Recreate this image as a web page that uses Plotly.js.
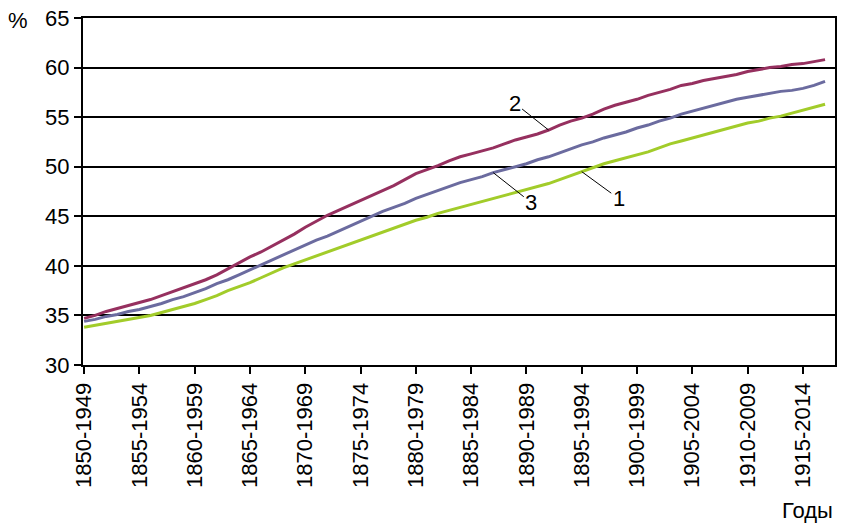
<!DOCTYPE html>
<html>
<head>
<meta charset="utf-8">
<script src="https://cdn.plot.ly/plotly-3.0.1.min.js"></script>
<style>html,body{margin:0;padding:0;background:#fff}#chart{width:849px;height:525px}</style>
</head>
<body>
<div id="chart"></div>
<script>
// Start years of the 100-year windows (1850-1949 ... 1917-2016)
const startYears = [];
for (let y = 1850; y <= 1917; y++) startYears.push(y);
const categories = startYears.map(y => y + '-' + (y + 99));

// Series 1 (green)
const series1 = [33.8,34.0,34.2,34.4,34.6,34.8,35.0,35.3,35.6,35.9,
  36.2,36.6,37.0,37.5,37.9,38.3,38.8,39.3,39.8,40.2,
  40.6,41.0,41.4,41.8,42.2,42.6,43.0,43.4,43.8,44.2,
  44.6,44.9,45.3,45.6,45.9,46.2,46.5,46.8,47.1,47.4,
  47.7,48.0,48.3,48.7,49.1,49.5,49.9,50.3,50.6,50.9,
  51.2,51.5,51.9,52.3,52.6,52.9,53.2,53.5,53.8,54.1,
  54.4,54.6,54.9,55.1,55.4,55.7,56.0,56.3];
// Series 2 (purple)
const series2 = [34.7,35.0,35.4,35.7,36.0,36.3,36.6,37.0,37.4,37.8,
  38.2,38.6,39.1,39.7,40.3,40.9,41.4,42.0,42.6,43.2,
  43.9,44.5,45.1,45.6,46.1,46.6,47.1,47.6,48.1,48.7,
  49.3,49.7,50.1,50.6,51.0,51.3,51.6,51.9,52.3,52.7,
  53.0,53.3,53.7,54.2,54.6,54.9,55.3,55.8,56.2,56.5,
  56.8,57.2,57.5,57.8,58.2,58.4,58.7,58.9,59.1,59.3,
  59.6,59.8,60.0,60.1,60.3,60.4,60.6,60.8];
// Series 3 (blue-grey)
const series3 = [34.4,34.6,34.9,35.1,35.4,35.6,35.9,36.2,36.6,36.9,
  37.3,37.7,38.2,38.6,39.1,39.6,40.1,40.6,41.1,41.6,
  42.1,42.6,43.0,43.5,44.0,44.5,45.0,45.5,45.9,46.3,
  46.8,47.2,47.6,48.0,48.4,48.7,49.0,49.4,49.7,50.0,
  50.3,50.7,51.0,51.4,51.8,52.2,52.5,52.9,53.2,53.5,
  53.9,54.2,54.6,54.9,55.3,55.6,55.9,56.2,56.5,56.8,
  57.0,57.2,57.4,57.6,57.7,57.9,58.2,58.6];

const tickLabels = categories.filter((c, i) => i % 5 === 0);
const yTicks = [30,35,40,45,50,55,60,65];
const seriesNames = ['1','2','3'];

const FONT = 'Liberation Sans, Arial, sans-serif';

const traces = [
  {x: categories, y: series3, name: seriesNames[2], mode: 'lines', line: {color: '#6B6B9F', width: 3}},
  {x: categories, y: series1, name: seriesNames[0], mode: 'lines', line: {color: '#A2CC2A', width: 3}},
  {x: categories, y: series2, name: seriesNames[1], mode: 'lines', line: {color: '#96305F', width: 3}}
];

function label(txt, idx, arr, ax, ay) {
  return {x: idx, y: arr[idx], xref: 'x', yref: 'y', text: txt, showarrow: true,
    arrowhead: 0, arrowwidth: 1, arrowcolor: '#000', ax: ax, ay: ay, standoff: 0,
    font: {family: FONT, size: 22, color: '#000'}};
}

const layout = {
  width: 849, height: 525,
  margin: {l: 83, r: 14, t: 18, b: 160},
  paper_bgcolor: '#fff', plot_bgcolor: '#fff',
  showlegend: false,
  font: {family: FONT, color: '#000'},
  xaxis: {
    type: 'category', range: [-0.1, 67.9],
    tickvals: tickLabels, ticktext: tickLabels, tickangle: -90,
    ticks: 'outside', ticklen: 7, tickwidth: 2, tickcolor: '#000',
    showline: true, linecolor: '#000', linewidth: 2, mirror: true,
    showgrid: false, zeroline: false,
    tickfont: {family: FONT, size: 22, color: '#000'}
  },
  yaxis: {
    range: [30, 65], tickvals: yTicks,
    ticks: 'outside', ticklen: 7, tickwidth: 2, tickcolor: '#000',
    showline: true, linecolor: '#000', linewidth: 2, mirror: true,
    showgrid: true, gridcolor: '#000', gridwidth: 2, zeroline: false,
    tickfont: {family: FONT, size: 22, color: '#000'}
  },
  annotations: [
    label(seriesNames[1], 42, series2, -34, -27),
    label(seriesNames[2], 37, series3, 38, 30),
    label(seriesNames[0], 45, series1, 37, 27),
    {text: '%', xref: 'paper', yref: 'paper', x: -0.102, y: 0.994, xanchor: 'left', yanchor: 'middle',
     showarrow: false, font: {family: FONT, size: 22, color: '#000'}},
    {text: 'Годы', xref: 'paper', yref: 'paper', x: 1, y: -0.418, xanchor: 'right', yanchor: 'middle',
     showarrow: false, font: {family: FONT, size: 22, color: '#000'}}
  ]
};

Plotly.newPlot('chart', traces, layout, {displayModeBar: false, staticPlot: true});
</script>
</body>
</html>
